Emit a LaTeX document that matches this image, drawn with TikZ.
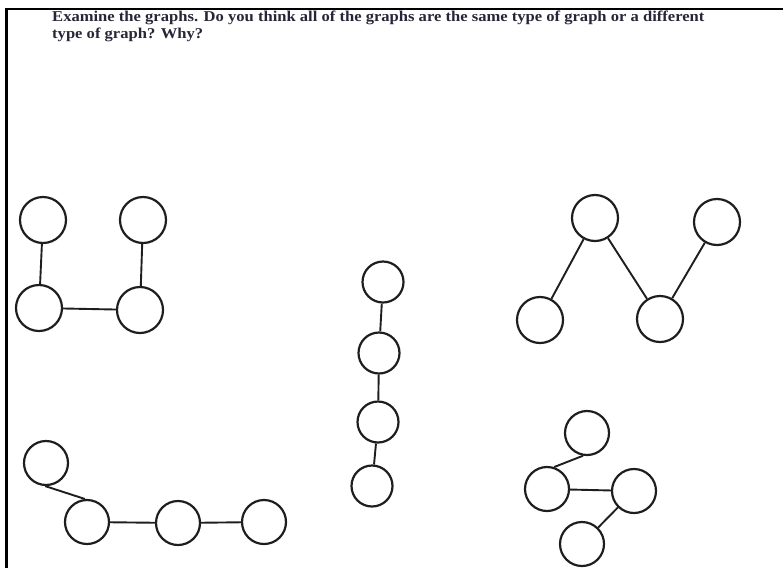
\documentclass[tikz,border=0pt]{standalone}
\usepackage{fontspec}
\setmainfont{Liberation Serif}
\definecolor{ink}{HTML}{1E1E1E}
\definecolor{txt}{HTML}{262638}
\begin{document}
\begin{tikzpicture}[x=1pt,y=-1pt,
  vA/.style={circle,draw=ink,line width=2.2pt,minimum size=46pt,inner sep=0pt},
  vB/.style={circle,draw=ink,line width=2.2pt,minimum size=44pt,inner sep=0pt},
  vC/.style={circle,draw=ink,line width=2.2pt,minimum size=41pt,inner sep=0pt},
  ed/.style={draw=ink,line width=1.9pt},
  frame/.style={draw=black,line width=2.3pt},
  qtext/.style={anchor=base west,inner sep=0pt,text=txt,font=\fontsize{15}{17}\selectfont\bfseries}]
\useasboundingbox (0,0) rectangle (783,568);
% frame
\coordinate (fr1) at (783,9);
\coordinate (fr2) at (6.5,9);
\coordinate (fr3) at (6.5,568);
\draw[frame] (fr1) -- (fr2) -- (fr3);
% question text
\node[qtext] (q1) at (52,21)
  {\scalebox{1.105}[1]{Examine the graphs. Do you think all of the graphs are the same type of graph or a different}};
\node[qtext] (q2) at (52,38)
  {\scalebox{1.105}[1]{type of graph? Why?}};
% graph 1 (top left)
\node[vA] (a1) at (43,220) {};
\node[vA] (a2) at (143,220) {};
\node[vA] (a3) at (39,308) {};
\node[vA] (a4) at (140,310) {};
\draw[ed] (a1) -- (a3);
\draw[ed] (a2) -- (a4);
\draw[ed] (a3) -- (a4);
% graph 2 (top right)
\node[vA] (b1) at (595,218) {};
\node[vA] (b2) at (717,222) {};
\node[vA] (b3) at (540,320) {};
\node[vA] (b4) at (660,319) {};
\draw[ed] (b1) -- (b3);
\draw[ed] (b1) -- (b4);
\draw[ed] (b4) -- (b2);
% graph 3 (vertical chain)
\node[vC] (c1) at (383,282) {};
\node[vC] (c2) at (379,353) {};
\node[vC] (c3) at (378,422) {};
\node[vC] (c4) at (372,486) {};
\draw[ed] (c1) -- (c2);
\draw[ed] (c2) -- (c3);
\draw[ed] (c3) -- (c4);
% graph 4 (bottom left)
\node[vB] (d1) at (46,463) {};
\node[vB] (d2) at (87,522) {};
\node[vB] (d3) at (178,523) {};
\node[vB] (d4) at (264,522) {};
\draw[ed] (d1.-92) -- (d2.95);
\draw[ed] (d2) -- (d3);
\draw[ed] (d3) -- (d4);
% graph 5 (bottom right)
\node[vB] (e1) at (587,433) {};
\node[vB] (e2) at (547,489) {};
\node[vB] (e3) at (634,491) {};
\node[vB] (e4) at (582,544) {};
\draw[ed] (e1.-100) -- (e2.72);
\draw[ed] (e2) -- (e3);
\draw[ed] (e3) -- (e4);
\end{tikzpicture}
\end{document}
